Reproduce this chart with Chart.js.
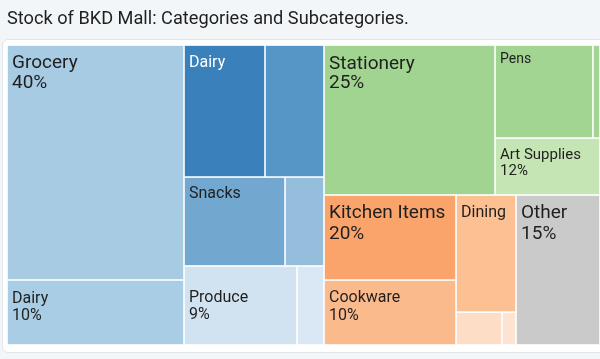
<!DOCTYPE html>
<html>
<head>
<meta charset="utf-8">
<script src="https://cdn.jsdelivr.net/npm/chart.js@4/dist/chart.umd.min.js"></script>
<style>
  html, body { margin: 0; padding: 0; background: #f3f6f9; }
  #wrap { position: relative; width: 600px; height: 359px; overflow: hidden; }
  #card { position: absolute; left: 2px; top: 39px; width: 640px; height: 312px; background: #ffffff; border: 1px solid #e1e6ec; border-radius: 6px; }
  canvas { position: absolute; left: 0; top: 0; }
</style>
</head>
<body>
<div id="wrap"><div id="card"></div><canvas id="c" width="600" height="359"></canvas></div>
<script>
// ---------------- DATA ----------------
const titleText = 'Stock of BKD Mall: Categories and Subcategories.';
const cellNames  = ['Grocery', 'Dairy', 'Dairy', '', 'Snacks', '', 'Produce', '', 'Stationery', 'Pens', '', 'Art Supplies', 'Kitchen Items', 'Cookware', 'Dining', '', '', 'Other'];
const cellShares = ['40%', '10%', '', '', '', '', '9%', '', '25%', '', '', '12%', '20%', '10%', '', '', '', '15%'];
// relative area of each tile (share of total area, %)
const cellSizes  = [23.38, 6.47, 6.01, 4.38, 5.05, 1.95, 5.02, 1.20, 14.42, 5.12, 0.37, 3.36, 6.31, 4.82, 3.95, 0.85, 0.26, 7.08];
// nesting of tiles: first item is the split direction, the rest are children (tile indices or sub-groups)
const layoutTree = ['x',
  ['x', ['y', 0, 1], ['y', ['x', 2, 3], ['x', 4, 5], ['x', 6, 7]]],
  ['y', ['x', 8, ['y', ['x', 9, 10], 11]], ['x', ['x', ['y', 12, 13], ['y', 14, ['x', 15, 16]]], 17]]
];

// ---------------- STYLE ----------------
const tileColors = ['#a7cbe3', '#a9cde5', '#3a80ba', '#5696c6', '#72a8cf', '#94bedc', '#d1e2f1', '#dae8f5',
                    '#a1d490', '#a3d592', '#a3d592', '#c5e6b4', '#faa46c', '#fbba8c', '#fcc092', '#fdddc6', '#fde4d2', '#cacaca'];
const textColors = ['#1f1f1f', '#1f1f1f', '#ffffff', '#1f1f1f', '#1f1f1f', '#1f1f1f', '#1f1f1f', '#1f1f1f',
                    '#1f1f1f', '#1f1f1f', '#1f1f1f', '#1f1f1f', '#1f1f1f', '#1f1f1f', '#1f1f1f', '#1f1f1f', '#1f1f1f', '#1f1f1f'];
const fontSizes  = [19, 16, 16, 16, 16, 16, 16, 16, 19, 14, 14, 15, 19, 16, 16, 16, 16, 19];
const firstLine  = [23, 23, 22, 22, 21, 21, 36, 21, 24, 18, 18, 21, 23, 22, 22, 22, 22, 23];
const lineGaps   = [20, 17, 17, 17, 17, 17, 17, 17, 19, 16, 16, 16, 21, 18, 18, 18, 18, 21];
const FONT = 'Roboto, "Noto Sans", sans-serif';

// ---------------- LAYOUT (slice and dice) ----------------
function nodeSum(node, vals) {
  if (typeof node === 'number') return vals[node];
  return node.slice(1).reduce((s, c) => s + nodeSum(c, vals), 0);
}
function layoutNode(node, vals, x0, y0, x1, y1, out) {
  if (typeof node === 'number') { out[node] = { x0, y0, x1, y1 }; return; }
  const dir = node[0];
  const total = nodeSum(node, vals);
  let pos = dir === 'x' ? x0 : y0;
  node.slice(1).forEach(child => {
    const f = nodeSum(child, vals) / total;
    if (dir === 'x') { const w = (x1 - x0) * f; layoutNode(child, vals, pos, y0, pos + w, y1, out); pos += w; }
    else { const h = (y1 - y0) * f; layoutNode(child, vals, x0, pos, x1, pos + h, out); pos += h; }
  });
}

// ---------------- CHART.JS CUSTOM TYPE ----------------
class TileElement extends Chart.Element {
  draw(ctx) {
    const { x, y, width, height, options: o } = this;
    const g = o.gap / 2;
    ctx.save();
    ctx.fillStyle = o.backgroundColor;
    ctx.fillRect(x + g, y + g, width - 2 * g, height - 2 * g);
    if (o.label) {
      ctx.fillStyle = o.color;
      ctx.font = o.fontSize + 'px ' + FONT;
      ctx.textBaseline = 'alphabetic';
      ctx.textAlign = 'left';
      ctx.fillText(o.label, x + o.padX, y + o.firstLine);
      if (o.share) ctx.fillText(o.share, x + o.padX, y + o.firstLine + o.lineGap);
    }
    ctx.restore();
  }
}
TileElement.id = 'tile';
TileElement.defaults = {};

class TreemapController extends Chart.DatasetController {
  parse(start, count) {
    const meta = this._cachedMeta;
    for (let i = start; i < start + count; i++) meta._parsed[i] = { x: i, y: this._data[i] };
  }
  update(mode) {
    const meta = this._cachedMeta;
    this.updateElements(meta.data, 0, meta.data.length, mode);
  }
  updateElements(tiles, start, count, mode) {
    const meta = this._cachedMeta;
    const xs = meta.xScale, ys = meta.yScale;
    const ds = this.getDataset();
    const rects = [];
    layoutNode(ds.tree, ds.data, xs.min, ys.min, xs.max, ys.max, rects);
    for (let i = start; i < start + count; i++) {
      const r = rects[i];
      const l = xs.getPixelForValue(r.x0), rr = xs.getPixelForValue(r.x1);
      const t = ys.getPixelForValue(r.y0), b = ys.getPixelForValue(r.y1);
      this.updateElement(tiles[i], i, {
        x: Math.min(l, rr), y: Math.min(t, b), width: Math.abs(rr - l), height: Math.abs(b - t),
        options: {
          backgroundColor: ds.backgroundColor[i], color: ds.labelColors[i],
          label: this.chart.data.labels[i], share: ds.shares[i],
          fontSize: ds.fontSizes[i], firstLine: ds.firstLine[i], lineGap: ds.lineGaps[i],
          padX: 5, gap: 1.6
        }
      }, mode);
    }
  }
}
TreemapController.id = 'treemap';
TreemapController.defaults = { datasetElementType: false, dataElementType: 'tile' };
TreemapController.overrides = {};
Chart.register(TreemapController, TileElement);

new Chart(document.getElementById('c'), {
  type: 'treemap',
  data: {
    labels: cellNames,
    datasets: [{
      data: cellSizes, tree: layoutTree, shares: cellShares,
      backgroundColor: tileColors, labelColors: textColors,
      fontSizes: fontSizes, firstLine: firstLine, lineGaps: lineGaps
    }]
  },
  options: {
    responsive: false, animation: false, events: [],
    layout: { padding: { left: 7, right: 0, top: 0, bottom: 14 } },
    scales: {
      x: { type: 'linear', min: 0, max: 100, display: false },
      y: { type: 'linear', min: 0, max: 100, reverse: true, display: false }
    },
    plugins: {
      legend: { display: false },
      tooltip: { enabled: false },
      title: {
        display: true, text: titleText, align: 'start', color: '#1f1f1f',
        font: { family: FONT, size: 18.2, weight: 'normal' },
        padding: { top: 9, bottom: 14.2 }
      }
    }
  }
});
</script>
</body>
</html>
